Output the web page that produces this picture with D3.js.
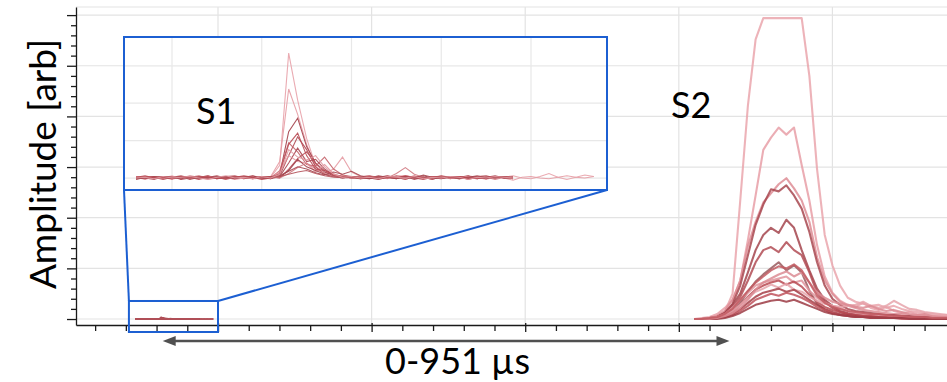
<!DOCTYPE html>
<html>
<head>
<meta charset="utf-8">
<script src="https://cdn.jsdelivr.net/npm/d3@7"></script>
<style>
body { margin: 0; background: #fff; }
svg { display: block; font-family: Lato, "Open Sans", sans-serif; }
</style>
</head>
<body>
<svg id="chart" width="947" height="382"></svg>
<script>
// ---- data -----------------------------------------------------------------
// time axis in arbitrary units (major tick = 1), amplitude in arb units
var s1Time = [0.46, 0.47, 0.48, 0.49, 0.50, 0.51, 0.52, 0.53, 0.54, 0.55,
    0.56, 0.57, 0.58, 0.59, 0.60, 0.61, 0.62, 0.63, 0.64, 0.65, 0.66, 0.67,
    0.68, 0.69, 0.70, 0.71, 0.72, 0.73, 0.74, 0.75, 0.76, 0.77, 0.78, 0.79,
    0.80, 0.81, 0.82, 0.83, 0.84, 0.85, 0.86, 0.87, 0.88, 0.89, 0.90, 0.91,
    0.92, 0.93, 0.94, 0.95, 0.96, 0.97];

var s1Traces = [
    [0.01, -0.02, 0.02, 0.00, 0.03, -0.01, 0.01, 0.02, -0.02, 0.00, 0.02, 0.01,
     -0.01, 0.03, 0.00, 0.01, 0.17, 1.67, 1.04, 0.53, 0.17, 0.05, 0.02, 0.04,
     0.01, -0.01, 0.02, 0.00, 0.03, 0.01, -0.02, 0.02, 0.00, 0.01, 0.03, -0.01,
     0.02, 0.00, 0.01, -0.02, 0.02, 0.01, 0.03, 0.00, -0.01, 0.02, 0.06, 0.01,
     -0.02, 0.01, 0.04, 0.02],
    [-0.01, 0.02, 0.00, 0.01, -0.02, 0.02, 0.01, 0.00, 0.03, -0.01, 0.01, 0.00,
     0.02, -0.01, 0.01, 0.02, 0.22, 1.19, 0.85, 0.45, 0.15, 0.06, 0.12, 0.28,
     0.08, 0.02, 0.00, 0.01, -0.01, 0.02, 0.03, 0.00, 0.01, -0.02, 0.02, 0.01,
     0.00, 0.03, 0.01, -0.01, 0.02, 0.00, -0.03, 0.01, 0.02, 0.00, -0.01, 0.01,
     0.03, 0.01, 0.00, 0.02],
    [0.00, 0.02, -0.01, 0.01, 0.02, -0.02, 0.00, 0.01, 0.03, 0.00, -0.01, 0.02,
     0.01, 0.00, 0.02, -0.01, 0.05, 0.62, 0.80, 0.42, 0.20, 0.08, 0.03, 0.01,
     0.02, -0.01, 0.00, 0.03, 0.01, -0.01, 0.02, 0.00, 0.01, -0.02, 0.02, 0.00,
     0.01, 0.03, -0.01, 0.01, 0.00, 0.02, 0.01],
    [0.02, 0.00, 0.01, -0.02, 0.01, 0.03, 0.00, -0.01, 0.02, 0.01, 0.00, 0.02,
     -0.01, 0.01, 0.00, 0.02, 0.03, 0.30, 0.55, 0.38, 0.15, 0.05, 0.02, 0.00,
     0.02, 0.01, -0.01, 0.02, 0.00, 0.03, 0.01, 0.00, -0.02, 0.01, 0.02, 0.00,
     0.01, -0.01, 0.02, 0.03, 0.00, 0.01, -0.01],
    [-0.01, 0.01, 0.02, 0.00, -0.01, 0.02, 0.01, 0.03, 0.00, 0.01, -0.02, 0.01,
     0.02, 0.00, 0.01, 0.00, 0.10, 0.47, 0.35, 0.18, 0.16, 0.28, 0.12, 0.04,
     0.02, 0.00, 0.01, -0.01, 0.02, 0.01, 0.00, 0.03, -0.01, 0.01, 0.02, 0.00,
     -0.01, 0.02, 0.01, 0.00, 0.02, 0.01, -0.01],
    [0.01, 0.00, -0.02, 0.02, 0.01, 0.00, 0.02, -0.01, 0.01, 0.03, 0.00, -0.01,
     0.01, 0.02, 0.00, -0.01, 0.02, 0.20, 0.40, 0.22, 0.25, 0.12, 0.04, 0.01,
     0.02, 0.00, -0.01, 0.01, 0.03, 0.00, 0.02, -0.02, 0.01, 0.00, 0.02, 0.01,
     -0.01, 0.00, 0.02, 0.01, 0.03, 0.00, 0.01],
    [0.00, 0.01, 0.02, -0.01, 0.00, 0.02, 0.01, -0.02, 0.01, 0.00, 0.02, 0.03,
     0.00, -0.01, 0.02, 0.01, 0.00, 0.12, 0.26, 0.35, 0.20, 0.10, 0.05, 0.02,
     0.00, 0.01, 0.03, -0.01, 0.01, 0.02, 0.00, 0.01, -0.01, 0.02, 0.00, 0.01,
     0.02, -0.02, 0.01, 0.00, 0.02, 0.01, 0.00],
    [0.02, -0.01, 0.00, 0.01, 0.02, 0.00, -0.01, 0.01, 0.02, 0.00, 0.01, -0.02,
     0.00, 0.02, 0.01, 0.00, 0.08, 0.30, 0.22, 0.20, 0.08, 0.18, 0.06, 0.01,
     0.00, 0.02, 0.01, -0.01, 0.00, 0.02, 0.03, 0.01, 0.00, -0.01, 0.02, 0.01,
     0.00, 0.02, -0.01, 0.01, 0.00, 0.02, 0.01],
    [-0.02, 0.01, 0.00, 0.02, 0.01, -0.01, 0.02, 0.00, 0.01, -0.01, 0.02, 0.00,
     0.01, 0.03, -0.01, 0.01, 0.01, 0.10, 0.25, 0.15, 0.10, 0.05, 0.02, 0.00,
     0.01, 0.02, 0.00, -0.02, 0.01, 0.00, 0.02, 0.01, 0.03, 0.00, -0.01, 0.01,
     0.02, 0.00, 0.01, -0.01, 0.02, 0.00, 0.01],
    [0.01, 0.02, 0.00, -0.01, 0.01, 0.00, 0.03, 0.01, -0.01, 0.02, 0.00, 0.01,
     0.02, -0.01, 0.00, 0.02, 0.00, 0.06, 0.14, 0.20, 0.12, 0.06, 0.02, 0.01,
     0.00, 0.02, 0.03, 0.01, 0.00, 0.06, 0.14, 0.05, 0.01, 0.00, 0.02, -0.01,
     0.01, 0.02, 0.00, 0.01, -0.02, 0.01, 0.00],
    [0.00, -0.01, 0.02, 0.01, 0.00, 0.02, -0.02, 0.01, 0.00, 0.02, 0.01, -0.01,
     0.02, 0.00, 0.01, 0.02, 0.03, 0.09, 0.15, 0.12, 0.07, 0.04, 0.08, 0.05,
     0.09, 0.03, 0.00, 0.02, 0.01, -0.01, 0.02, 0.00, 0.04, 0.01, 0.00, 0.02,
     -0.01, 0.01, 0.03, 0.00, 0.01, 0.02, 0.00],
    [0.01, 0.00, 0.01, 0.02, -0.01, 0.01, 0.00, 0.02, 0.01, 0.00, -0.01, 0.02,
     0.01, 0.00, 0.02, 0.01, 0.02, 0.05, 0.08, 0.10, 0.06, 0.03, 0.01, 0.02,
     0.00, -0.01, 0.01, 0.02, 0.00, 0.01, -0.02, 0.02, 0.01, 0.00, 0.03, 0.01,
     0.00, -0.01, 0.02, 0.01, 0.00, 0.02, 0.01],
    [0.01, 0.03, 0.00, 0.01, -0.01, 0.02, 0.00, 0.01, 0.02, -0.01, 0.00, 0.01,
     0.03, 0.01, -0.02, 0.00, 0.06, 0.45, 0.60, 0.30, 0.12, 0.10, 0.04, 0.02,
     0.01, 0.00, 0.02, -0.01, 0.01, 0.00, 0.03, 0.01, -0.01, 0.02, 0.00, 0.01,
     0.02, 0.00, -0.01, 0.01, 0.02, 0.00, 0.01],
    [0.00, 0.01, -0.01, 0.02, 0.00, 0.01, 0.02, 0.00, -0.02, 0.01, 0.03, 0.00,
     0.01, -0.01, 0.02, 0.00, 0.05, 0.38, 0.28, 0.24, 0.30, 0.15, 0.05, 0.01,
     0.02, 0.00, 0.01, -0.01, 0.02, 0.01, 0.00, 0.02, -0.01, 0.01, 0.00, 0.02,
     0.01, -0.02, 0.01, 0.00, 0.02, 0.01, 0.00]
];

var s1Colors = ["#e8a2aa", "#e59ca4", "#a3404a", "#b04a53", "#c4646c",
    "#a84550", "#b9525b", "#e3979f", "#9e3c46", "#d07a82", "#a54750",
    "#b5545c", "#b84a53", "#e09aa2"];

var s2Time = [4.10, 4.15, 4.20, 4.25, 4.30, 4.35, 4.40, 4.45, 4.50, 4.55,
    4.60, 4.65, 4.70, 4.75, 4.80, 4.85, 4.90, 4.95, 5.00, 5.05, 5.10, 5.15,
    5.20, 5.25, 5.30, 5.35, 5.40, 5.45, 5.50, 5.55, 5.60, 5.65, 5.70, 5.75];

var s2Traces = [
    [0, 0, 1, 3, 7, 25, 117, 211, 276, 297, 297, 297, 297, 297, 297, 240, 148,
     83, 53, 33, 21, 17, 15, 13, 14, 11, 13, 10, 8, 7, 6, 5, 4, 4],
    [0, 1, 2, 5, 11, 19, 38, 78, 122, 167, 179, 189, 182, 189, 152, 117, 73,
     42, 26, 18, 14, 12, 16, 11, 9, 12, 8, 6, 7, 5, 4, 3, 3, 2],
    [0, 0, 1, 3, 8, 19, 38, 72, 96, 115, 124, 133, 139, 129, 117, 96, 61, 38,
     25, 17, 13, 11, 9, 8, 7, 6, 5, 5, 4, 3, 3, 2, 2, 2],
    [0, 0, 1, 2, 6, 15, 33, 63, 93, 113, 128, 126, 132, 122, 109, 86, 56, 33,
     20, 14, 10, 8, 7, 6, 5, 4, 4, 3, 3, 2, 2, 1, 1, 1],
    [0, 0, 1, 2, 6, 14, 25, 46, 68, 83, 90, 85, 98, 90, 68, 48, 30, 19, 13, 8,
     6, 5, 4, 4, 3, 3, 2, 2, 1, 1, 1, 1, 1, 1],
    [0, 0, 0, 1, 4, 11, 22, 38, 56, 68, 71, 66, 76, 68, 63, 46, 26, 17, 11, 7,
     5, 4, 3, 3, 2, 2, 2, 1, 1, 1, 1, 1, 0, 0],
    [0, 0, 0, 1, 3, 8, 16, 27, 37, 44, 50, 56, 48, 53, 46, 28, 15, 9, 6, 4, 3,
     2, 2, 2, 1, 1, 1, 1, 1, 0, 0, 0, 0, 0],
    [0, 0, 1, 2, 5, 11, 19, 26, 33, 36, 38, 40, 42, 36, 38, 28, 21, 16, 13, 11,
     8, 6, 5, 4, 3, 3, 2, 2, 1, 1, 1, 1, 0, 0],
    [0, 0, 0, 1, 3, 7, 14, 22, 29, 33, 36, 38, 34, 37, 32, 24, 17, 12, 9, 7, 5,
     4, 3, 3, 2, 2, 1, 1, 1, 1, 1, 0, 0, 0],
    [0, 0, 1, 2, 4, 8, 14, 21, 27, 30, 34, 31, 35, 29, 27, 22, 18, 15, 13, 12,
     13, 14, 17, 13, 11, 13, 18, 14, 10, 9, 7, 6, 5, 4],
    [0, 0, 0, 1, 2, 5, 10, 16, 22, 26, 28, 30, 27, 29, 24, 19, 14, 10, 7, 5, 4,
     3, 2, 2, 2, 1, 1, 1, 1, 0, 0, 0, 0, 0],
    [0, 0, 0, 1, 2, 4, 8, 13, 19, 22, 25, 23, 26, 24, 21, 17, 12, 9, 6, 4, 3,
     2, 2, 1, 1, 1, 1, 0, 0, 0, 0, 0, 0, 0],
    [0, 0, 0, 0, 1, 3, 6, 10, 14, 16, 18, 19, 17, 19, 16, 13, 10, 7, 5, 4, 3,
     2, 2, 1, 1, 1, 1, 1, 0, 0, 0, 0, 0, 0],
    [0, 0, 0, 1, 3, 6, 11, 19, 29, 36, 40, 44, 47, 42, 46, 36, 26, 21, 17, 15,
     14, 12, 11, 13, 10, 8, 9, 7, 5, 4, 5, 3, 2, 2],
    [0, 0, 1, 2, 5, 10, 19, 28, 36, 42, 48, 52, 50, 54, 48, 36, 23, 16, 12, 10,
     8, 7, 6, 5, 5, 4, 3, 3, 2, 2, 2, 1, 1, 1]
];

var s2Colors = ["#eaa6ad", "#e79fa7", "#de8d95", "#a84850", "#a4454e",
    "#b14c55", "#9a5a5e", "#e1959d", "#b84a52", "#e6a4ab", "#a63f48",
    "#c0545d", "#9c3b44", "#dc8c94", "#c25a62"];

var xMajorTicks = [1, 2, 3, 4, 5];
var yMajorTicks = [0, 50, 100, 150, 200, 250, 300];
var insetXTicks = [0.5, 0.6, 0.7, 0.8, 0.9];
var insetYTicks = [0, 0.5, 1.0, 1.5];

// region of the main plot shown in the inset, and the span of the arrow
var zoomTime = [0.42, 1.0];
var zoomAmp = [-12.8, 17.8];
var arrowTime = [0.64, 4.33];

var peakLabels = ["S1", "S2"];
var yLabel = "Amplitude [arb]";
var spanLabel = "0-951 µs";

// ---- layout ---------------------------------------------------------------
var plot = {left: 76, right: 947, top: 7, bottom: 325};
var inset = {left: 124, top: 37, width: 483, height: 153};

var svg = d3.select("#chart");

var x = d3.scaleLinear().domain([0.0755, 5.746])
    .range([plot.left, plot.right]);
var y = d3.scaleLinear().domain([-5.9, 308])
    .range([plot.bottom, plot.top]);

var ix = d3.scaleLinear().domain([0.4465, 0.9847])
    .range([inset.left, inset.left + inset.width]);
var iy = d3.scaleLinear().domain([-0.16, 1.885])
    .range([inset.top + inset.height, inset.top]);

var xMinor = d3.range(1, 29).map(function(i) { return i * 0.2; })
    .filter(function(d) { return Math.abs(d - Math.round(d)) > 0.01; });
var yMinor = d3.range(1, 31).map(function(i) { return i * 10; })
    .filter(function(d) { return d % 50 !== 0; });

var defs = svg.append("defs");
defs.append("clipPath").attr("id", "plotClip").append("rect")
    .attr("x", plot.left).attr("y", plot.top)
    .attr("width", plot.right - plot.left)
    .attr("height", plot.bottom - plot.top);
defs.append("clipPath").attr("id", "insetClip").append("rect")
    .attr("x", inset.left).attr("y", inset.top)
    .attr("width", inset.width).attr("height", inset.height);

// ---- grid -----------------------------------------------------------------
var grid = svg.append("g")
    .attr("stroke", "#e3e3e3")
    .attr("stroke-width", 1.2);

grid.selectAll(".gx").data(xMajorTicks).enter().append("line")
    .attr("x1", function(d) { return x(d); })
    .attr("x2", function(d) { return x(d); })
    .attr("y1", plot.top).attr("y2", plot.bottom);

grid.selectAll(".gy").data(yMajorTicks).enter().append("line")
    .attr("x1", plot.left).attr("x2", plot.right)
    .attr("y1", function(d) { return y(d); })
    .attr("y2", function(d) { return y(d); });

grid.append("line")
    .attr("x1", plot.left).attr("x2", plot.right)
    .attr("y1", plot.top).attr("y2", plot.top);

// ---- traces in main plot --------------------------------------------------
function traceLine(times, xs, ys) {
    return d3.line()
        .x(function(d, i) { return xs(times[i]); })
        .y(function(d) { return ys(d); });
}

var traces = svg.append("g").attr("clip-path", "url(#plotClip)")
    .attr("fill", "none");

traces.selectAll(".s1").data(s1Traces).enter().append("path")
    .attr("d", traceLine(s1Time, x, y))
    .attr("stroke", "#b04f58")
    .attr("stroke-width", 1.8)
    .attr("opacity", 0.8);

traces.selectAll(".s2").data(s2Traces).enter().append("path")
    .attr("d", traceLine(s2Time, x, y))
    .attr("stroke", function(d, i) { return s2Colors[i]; })
    .attr("stroke-width", 2.1)
    .attr("stroke-linejoin", "round")
    .attr("opacity", 0.85);

// ---- axes -----------------------------------------------------------------
function styleAxis(g) {
    g.selectAll("line").attr("stroke", "#1a1a1a").attr("stroke-width", 1.3);
    g.selectAll("path").attr("stroke", "#1a1a1a").attr("stroke-width", 1.3);
}

svg.append("g")
    .attr("transform", "translate(0," + plot.bottom + ")")
    .call(d3.axisBottom(x).tickValues(xMinor).tickSize(6)
        .tickSizeOuter(0).tickFormat(""))
    .call(styleAxis);

svg.append("g")
    .attr("transform", "translate(0," + (plot.bottom - 2) + ")")
    .call(d3.axisBottom(x).tickValues(xMajorTicks).tickSize(9)
        .tickFormat(""))
    .call(function(g) { g.select(".domain").remove(); })
    .call(styleAxis);

svg.append("g")
    .attr("transform", "translate(" + plot.left + ",0)")
    .call(d3.axisLeft(y).tickValues(yMinor).tickSize(5)
        .tickSizeOuter(0).tickFormat(""))
    .call(styleAxis);

svg.append("g")
    .attr("transform", "translate(" + (plot.left + 1) + ",0)")
    .call(d3.axisLeft(y).tickValues(yMajorTicks).tickSize(10)
        .tickFormat(""))
    .call(function(g) { g.select(".domain").remove(); })
    .call(styleAxis);

// ---- zoom box, connectors and inset ---------------------------------------
var blue = "#1c5fd2";

svg.append("rect")
    .attr("x", x(zoomTime[0])).attr("y", y(zoomAmp[1]))
    .attr("width", x(zoomTime[1]) - x(zoomTime[0]))
    .attr("height", y(zoomAmp[0]) - y(zoomAmp[1]))
    .attr("fill", "none").attr("stroke", blue).attr("stroke-width", 2);

var insetBottom = inset.top + inset.height;
svg.append("line")
    .attr("x1", inset.left).attr("y1", insetBottom)
    .attr("x2", x(zoomTime[0])).attr("y2", y(zoomAmp[1]))
    .attr("stroke", blue).attr("stroke-width", 2);
svg.append("line")
    .attr("x1", inset.left + inset.width).attr("y1", insetBottom)
    .attr("x2", x(zoomTime[1])).attr("y2", y(zoomAmp[1]))
    .attr("stroke", blue).attr("stroke-width", 2);

svg.append("rect")
    .attr("x", inset.left).attr("y", inset.top)
    .attr("width", inset.width).attr("height", inset.height)
    .attr("fill", "#fff");

var igrid = svg.append("g").attr("stroke", "#e8e8e8").attr("stroke-width", 1.2)
    .attr("clip-path", "url(#insetClip)");
igrid.selectAll(".ix").data(insetXTicks).enter().append("line")
    .attr("x1", function(d) { return ix(d); })
    .attr("x2", function(d) { return ix(d); })
    .attr("y1", inset.top).attr("y2", insetBottom);
igrid.selectAll(".iy").data(insetYTicks).enter().append("line")
    .attr("x1", inset.left).attr("x2", inset.left + inset.width)
    .attr("y1", function(d) { return iy(d); })
    .attr("y2", function(d) { return iy(d); });

svg.append("g").attr("clip-path", "url(#insetClip)").attr("fill", "none")
    .selectAll("path").data(s1Traces).enter().append("path")
    .attr("d", traceLine(s1Time, ix, iy))
    .attr("stroke", function(d, i) { return s1Colors[i]; })
    .attr("stroke-width", 1.1)
    .attr("opacity", 0.9);

svg.append("rect")
    .attr("x", inset.left).attr("y", inset.top)
    .attr("width", inset.width).attr("height", inset.height)
    .attr("fill", "none").attr("stroke", blue).attr("stroke-width", 2);

// ---- labels ---------------------------------------------------------------
svg.append("text")
    .attr("x", 196).attr("y", 124)
    .attr("font-size", 36).attr("fill", "#000")
    .text(peakLabels[0]);

svg.append("text")
    .attr("x", 671).attr("y", 118)
    .attr("font-size", 36).attr("fill", "#000")
    .text(peakLabels[1]);

svg.append("text")
    .attr("transform", "translate(56,164) rotate(-90)")
    .attr("text-anchor", "middle")
    .attr("font-size", 37).attr("fill", "#000")
    .text(yLabel);

// double headed arrow
var arrowY = 341;
var ax0 = x(arrowTime[0]), ax1 = x(arrowTime[1]);
var grey = "#505050";
svg.append("line")
    .attr("x1", ax0 + 8).attr("x2", ax1 - 8)
    .attr("y1", arrowY).attr("y2", arrowY)
    .attr("stroke", grey).attr("stroke-width", 2.6);
svg.append("path")
    .attr("d", "M" + ax0 + "," + arrowY + "L" + (ax0 + 13) + "," + (arrowY - 5)
        + "L" + (ax0 + 13) + "," + (arrowY + 5) + "Z")
    .attr("fill", grey);
svg.append("path")
    .attr("d", "M" + ax1 + "," + arrowY + "L" + (ax1 - 13) + "," + (arrowY - 5)
        + "L" + (ax1 - 13) + "," + (arrowY + 5) + "Z")
    .attr("fill", grey);

svg.append("text")
    .attr("x", 385).attr("y", 374)
    .attr("font-size", 36).attr("fill", "#000")
    .text(spanLabel);
</script>
</body>
</html>
